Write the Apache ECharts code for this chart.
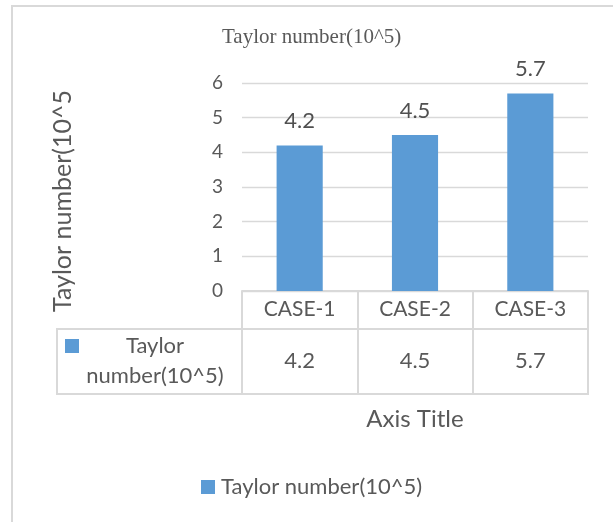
<!DOCTYPE html>
<html>
<head>
<meta charset="utf-8">
<script src="https://cdn.jsdelivr.net/npm/echarts@6/dist/echarts.min.js"></script>
<style>
  html, body { margin: 0; padding: 0; background: #ffffff; }
  #chart { width: 613px; height: 522px; }
</style>
</head>
<body>
<div id="chart"></div>
<script>
// Chart data
const chartTitle = 'Taylor number(10^5)';
const seriesName = 'Taylor number(10^5)';
const valueAxisTitle = 'Taylor number(10^5';
const categoryAxisTitle = 'Axis Title';
const categories = ['CASE-1', 'CASE-2', 'CASE-3'];
const taylorValues = [4.2, 4.5, 5.7];
const yTickValues = [0, 1, 2, 3, 4, 5, 6];

// Layout
const W = 613, H = 522;
const plotLeft = 242, plotRight = 588, plotTop = 83, plotBottom = 291;
const catRowH = 38;      // row holding the category names
const valRowH = 65;      // row holding the values
const tableLeft = 57;
const textColor = '#595959';
const lineColor = '#D9D9D9';
const barColor = '#5B9BD5';
const sans = 'Lato, Carlito, Calibri, sans-serif';

const chart = echarts.init(document.getElementById('chart'), null, { renderer: 'canvas' });

const yMin = yTickValues[0];
const yMax = yTickValues[yTickValues.length - 1];
const yStep = yTickValues[1] - yTickValues[0];

const option = {
  backgroundColor: '#ffffff',
  animation: false,
  title: {
    text: chartTitle,
    left: 222,
    top: 27,
    padding: 0,
    textStyle: {
      fontFamily: '"Liberation Serif", "Times New Roman", serif',
      fontSize: 21,
      fontWeight: 'normal',
      color: textColor
    }
  },
  legend: {
    data: [seriesName],
    left: 201,
    top: 476,
    padding: 0,
    icon: 'rect',
    itemWidth: 14,
    itemHeight: 14,
    textStyle: { fontFamily: sans, fontSize: 22, color: textColor, padding: [0, 0, 0, 1] }
  },
  grid: {
    left: plotLeft,
    right: W - plotRight,
    top: plotTop,
    bottom: H - plotBottom,
    containLabel: false
  },
  xAxis: [
    {
      type: 'category',
      data: categories,
      position: 'bottom',
      axisLine: { show: true, lineStyle: { color: lineColor, width: 2 } },
      axisTick: { show: true, length: catRowH, lineStyle: { color: lineColor, width: 2 } },
      axisLabel: { fontFamily: sans, fontSize: 21, color: textColor, margin: 8 },
      splitLine: { show: false }
    },
    {
      type: 'category',
      data: categories,
      position: 'bottom',
      offset: catRowH,
      axisLine: { show: true, lineStyle: { color: lineColor, width: 2 } },
      axisTick: { show: true, length: valRowH, lineStyle: { color: lineColor, width: 2 } },
      axisLabel: {
        fontFamily: sans, fontSize: 22, color: textColor, margin: 21,
        formatter: (v, i) => String(taylorValues[i])
      },
      name: categoryAxisTitle,
      nameLocation: 'middle',
      nameGap: 78,
      nameTextStyle: { fontFamily: sans, fontSize: 24, color: textColor },
      splitLine: { show: false }
    }
  ],
  yAxis: {
    type: 'value',
    min: yMin,
    max: yMax,
    interval: yStep,
    axisLine: { show: false },
    axisTick: { show: false },
    axisLabel: { fontFamily: sans, fontSize: 19, color: textColor, margin: 19 },
    splitLine: { show: true, lineStyle: { color: lineColor, width: 1.3 } }
  },
  series: [
    {
      name: seriesName,
      type: 'bar',
      data: taylorValues,
      xAxisIndex: 0,
      barWidth: '40%',
      itemStyle: { color: barColor },
      label: {
        show: true,
        position: 'top',
        distance: 13,
        fontFamily: sans,
        fontSize: 22,
        color: '#505050'
      }
    }
  ],
  graphic: [
    // outer chart border (top and left edges visible)
    {
      type: 'rect',
      shape: { x: 12, y: 6, width: W + 20, height: H + 20 },
      style: { fill: 'none', stroke: lineColor, lineWidth: 2 },
      silent: true
    },
    // series row of the data table, header cell plus value cells outline
    {
      type: 'rect',
      shape: { x: tableLeft, y: plotBottom + catRowH, width: plotRight - tableLeft, height: valRowH },
      style: { fill: 'none', stroke: lineColor, lineWidth: 2 },
      silent: true
    },
    // legend key in the header cell
    {
      type: 'rect',
      shape: { x: 65, y: 339, width: 14, height: 14 },
      style: { fill: barColor },
      silent: true
    },
    {
      type: 'text',
      x: 155,
      y: 361,
      style: {
        text: seriesName.replace(' ', '\n'),
        font: '22px ' + sans,
        fill: textColor,
        align: 'center',
        verticalAlign: 'middle',
        lineHeight: 30
      },
      silent: true
    },
    // value axis title
    {
      type: 'text',
      x: 63,
      y: 201,
      rotation: Math.PI / 2,
      style: {
        text: valueAxisTitle,
        font: '25px ' + sans,
        fill: textColor,
        align: 'center',
        verticalAlign: 'middle'
      },
      silent: true
    }
  ]
};

chart.setOption(option);
</script>
</body>
</html>
